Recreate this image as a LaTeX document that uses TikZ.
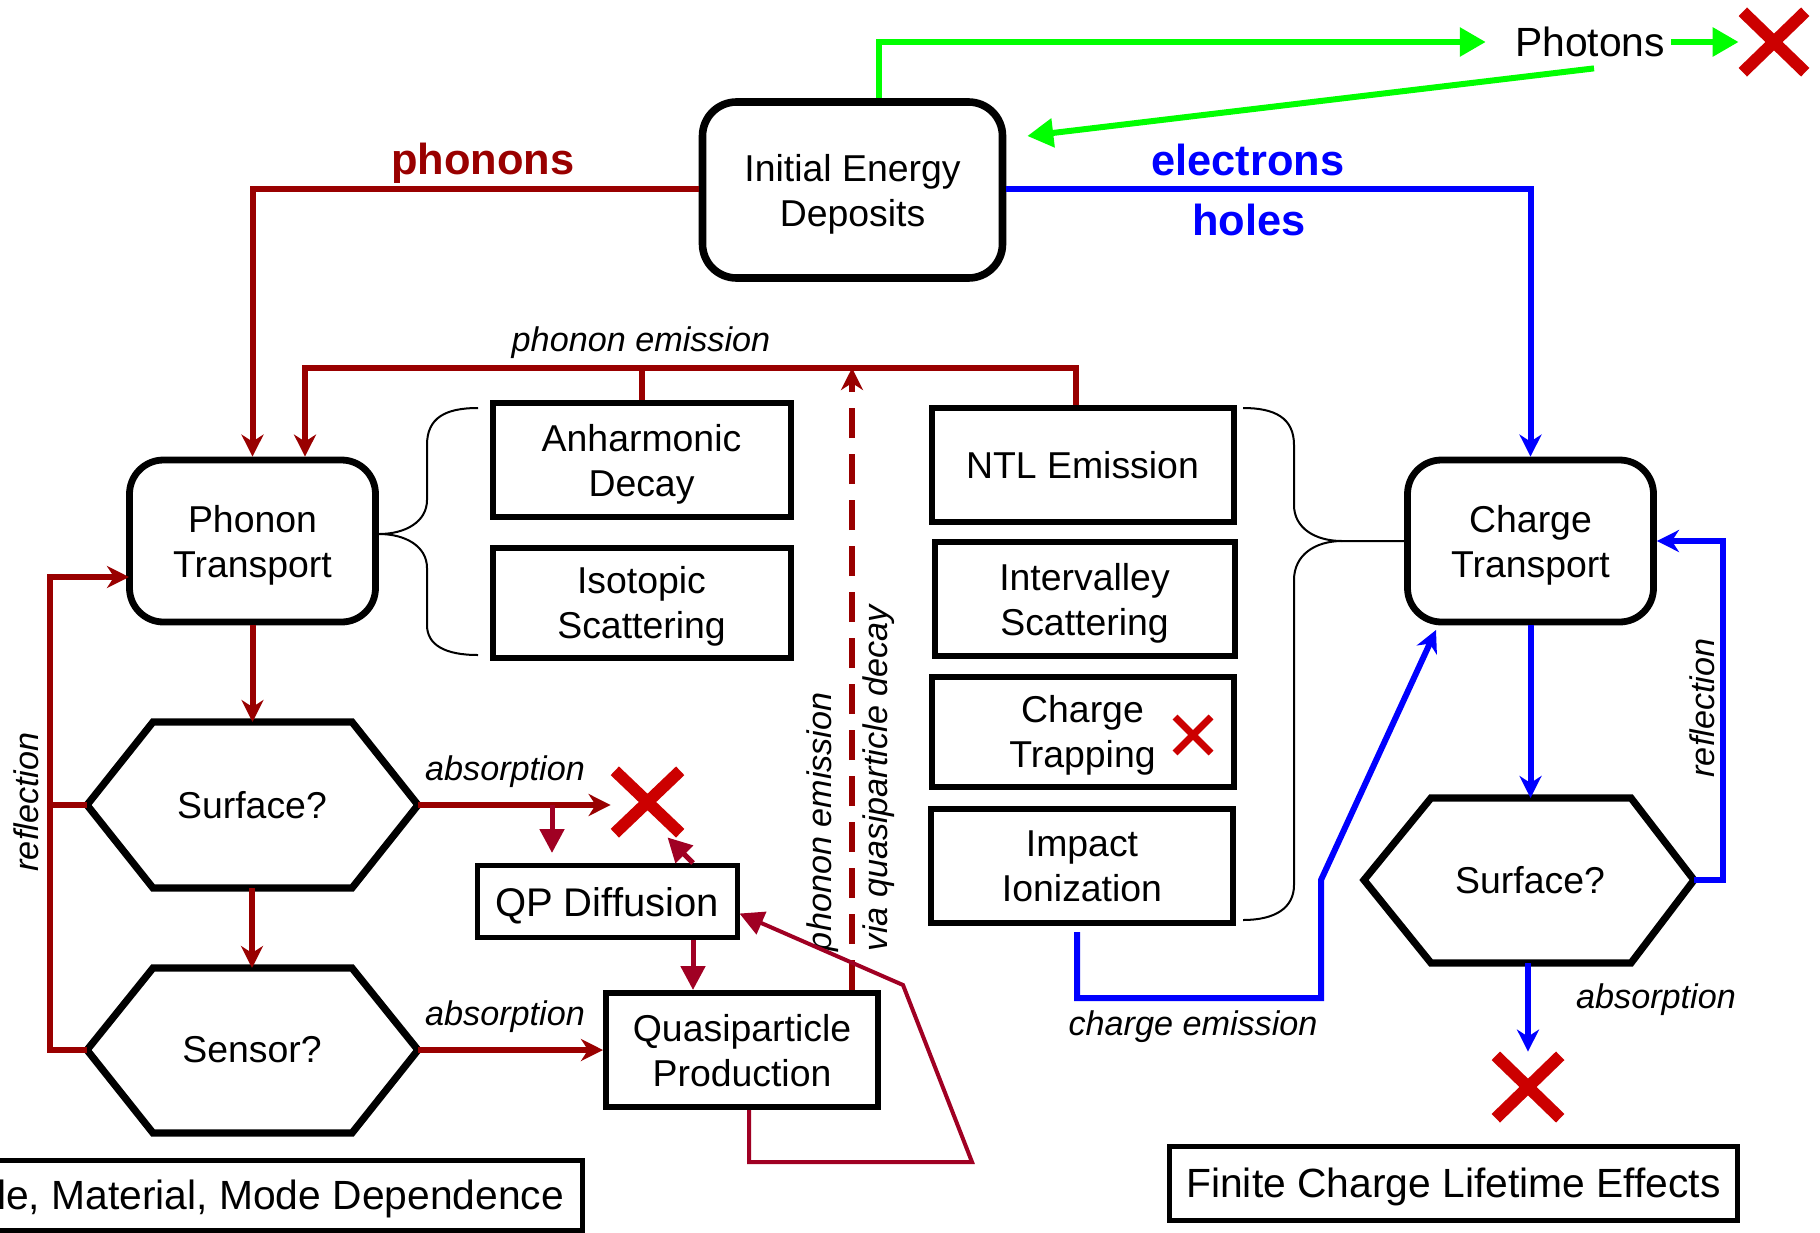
\documentclass[tikz,border=0pt]{standalone}
\usepackage{fontspec}
\setmainfont{Liberation Sans}
\usetikzlibrary{arrows.meta,calc}
\definecolor{pred}{RGB}{153,0,0}
\definecolor{qred}{RGB}{160,0,35}
\definecolor{xred}{RGB}{204,0,0}
\definecolor{eblue}{RGB}{0,0,255}
\definecolor{pgreen}{RGB}{0,255,0}
\tikzset{
  boxfont/.style={font=\fontsize{18.7}{22.5}\selectfont},
  rbox/.style={draw, line width=3.4pt, rounded corners=17pt, align=center, boxfont, inner sep=0pt, text depth=0pt},
  sbox/.style={draw, line width=3pt, align=center, boxfont, inner sep=0pt, text depth=0pt},
  hexa/.style={draw, line width=3.6pt, line join=miter},
  pline/.style={pred, line width=3pt},
  bline/.style={eblue, line width=3pt},
  gline/.style={pgreen, line width=3pt},
  qline/.style={qred, line width=2.5pt},
  lline/.style={qred, line width=2pt},
  brace/.style={black, line width=1pt},
  arr/.style={-{Stealth[length=11pt,width=11pt,inset=3.5pt]}},
  tarr/.style={-{Triangle[length=13pt,width=14pt]}},
  tarrs/.style={-{Triangle[length=12pt,width=12pt]}},
  lab/.style={font=\fontsize{17.1}{20}\selectfont\itshape, inner sep=0pt},
  blab/.style={font=\fontsize{21.7}{25}\selectfont\bfseries, inner sep=0pt},
  xnode/.style={inner sep=0pt}
}
\newcommand{\xmarkdraw}[3]{%
  \draw[xred,line width=#2,line cap=butt] ($(#1.north west)+(#3,-#3)$) -- ($(#1.south east)+(-#3,#3)$);
  \draw[xred,line width=#2,line cap=butt] ($(#1.north east)+(-#3,-#3)$) -- ($(#1.south west)+(#3,#3)$);}
\begin{document}
\begin{tikzpicture}[x=0.5pt,y=-0.5pt]
\useasboundingbox (0,0) rectangle (1820,1232);

% ---------------- boxes
\node[rbox, line width=3.8pt, minimum width=150pt, minimum height=88pt] (ied) at (852.5,190) {Initial Energy\\Deposits};
\path (852.5,188.5) coordinate (iedc);
\node[rbox, minimum width=123pt, minimum height=81pt] (pt) at (252.5,541) {Phonon\\Transport};
\node[rbox, minimum width=123pt, minimum height=81pt] (ct) at (1530.5,541) {Charge\\Transport};

\node[sbox, minimum width=149pt, minimum height=57pt] (anh) at (641.5,460) {Anharmonic\\Decay};
\node[sbox, minimum width=149pt, minimum height=55pt] (iso) at (641.5,602.5) {Isotopic\\Scattering};
\node[sbox, minimum width=151pt, minimum height=57pt] (ntl) at (1082.5,465) {NTL Emission};
\node[sbox, minimum width=150pt, minimum height=57pt] (ivs) at (1084.5,599) {Intervalley\\Scattering};
\node[sbox, minimum width=151pt, minimum height=55pt] (trap) at (1082.5,731.5) {Charge\\Trapping};
\node[sbox, minimum width=151pt, minimum height=57pt] (imp) at (1082,866) {Impact\\Ionization};
\node[sbox, line width=2.5pt, minimum width=130pt, minimum height=36pt, font=\fontsize{20}{24}\selectfont] (qpd) at (607,901.5) {QP Diffusion};
\node[sbox, minimum width=136pt, minimum height=57pt] (qpp) at (742,1050) {Quasiparticle\\Production};
\node[sbox, line width=2.5pt, minimum width=284pt, minimum height=37pt, font=\fontsize{20.4}{24}\selectfont] (fin) at (1453.5,1183) {Finite Charge Lifetime Effects};
\node[sbox, line width=2.5pt, minimum width=301pt, minimum height=35pt, inner xsep=9pt, font=\fontsize{20.4}{24}\selectfont] (dep) at (281,1195) {\makebox[283pt][r]{le, Material, Mode Dependence}};

% ---------------- hexagons
\coordinate (s1w) at (87,805);  \coordinate (s1nw) at (153,722); \coordinate (s1ne) at (352,722);
\coordinate (s1e) at (418,805); \coordinate (s1se) at (352,888); \coordinate (s1sw) at (153,888);
\draw[hexa] (s1w) -- (s1nw) -- (s1ne) -- (s1e) -- (s1se) -- (s1sw) -- cycle;
\node[boxfont] (surf1) at (252,805) {Surface?};

\coordinate (snw) at (87,1050);  \coordinate (snnw) at (153,968); \coordinate (snne) at (352,968);
\coordinate (sne) at (418,1050); \coordinate (snse) at (352,1133); \coordinate (snsw) at (153,1133);
\draw[hexa] (snw) -- (snnw) -- (snne) -- (sne) -- (snse) -- (snsw) -- cycle;
\node[boxfont] (sens) at (252,1050) {Sensor?};

\coordinate (s2w) at (1364,880);  \coordinate (s2nw) at (1431,798); \coordinate (s2ne) at (1631,798);
\coordinate (s2e) at (1694,880);  \coordinate (s2se) at (1631,963); \coordinate (s2sw) at (1431,963);
\draw[hexa] (s2w) -- (s2nw) -- (s2ne) -- (s2e) -- (s2se) -- (s2sw) -- cycle;
\node[boxfont] (surf2) at (1530,880) {Surface?};

% ---------------- photons and crosses
\node[font=\fontsize{20.4}{24}\selectfont, inner sep=0pt] (ph) at (1590,42) {Photons};
\node[xnode, minimum width=35pt, minimum height=34pt] (x1) at (1774,42) {};
\node[xnode, minimum width=36.5pt, minimum height=35pt] (x2) at (647.5,802) {};
\node[xnode, minimum width=20pt, minimum height=20pt] (x3) at (1193,735) {};
\node[xnode, minimum width=36pt, minimum height=35pt] (x4) at (1528,1087) {};
\xmarkdraw{x1}{6pt}{2.1pt}
\xmarkdraw{x2}{6pt}{2.1pt}
\xmarkdraw{x3}{3.5pt}{1.2pt}
\xmarkdraw{x4}{6pt}{2.1pt}

% ---------------- labels
\node[blab, text=pred] (lph) at (483,163) {phonons};
\node[blab, text=eblue] (lel) at (1248,160) {electrons};
\node[blab, text=eblue] (lho) at (1249,220) {holes};
\node[lab] (lpe) at (641,343) {phonon emission};
\node[lab] (ab1) at (505,772) {absorption};
\node[lab] (ab2) at (505,1017) {absorption};
\node[lab] (ab3) at (1656,1000) {absorption};
\node[lab] (celab) at (1193,1027) {charge emission};
\node[lab, rotate=90] (refl1) at (26,802) {reflection};
\node[lab, rotate=90] (refl2) at (1702,708) {reflection};
\node[rotate=90, align=left, inner sep=0pt, font=\fontsize{17.1}{28}\selectfont\itshape] (pelab) at (851,778) {phonon emission\\via quasiparticle decay};

% ---------------- green connectors
\coordinate (gup) at (879,42);
\draw[gline, tarr] (ied.north -| gup) |- ([xshift=-14.5pt]ph.west);
\draw[gline, tarr] ([xshift=3pt]ph.east) -- (x1.west);
\draw[gline, tarr] ([shift={(2pt,-5.5pt)}]ph.south) -- ([shift={(10.5pt,27pt)}]ied.east);

% ---------------- phonon connectors
\draw[pline, arr] (ied.west |- iedc) -| (pt.north);
\coordinate (pel) at (305,368);
\coordinate (per) at (1076,368);
\draw[pline, arr] (ntl.north -| per) -- (per) -- (pel) -- (pel |- pt.north);
\draw[pline] (anh.north) -- (anh.north |- pel);
\coordinate (dsh) at (852,368);
\draw[pline, line width=2.6pt, dash pattern=on 15pt off 8pt, arr] (qpp.north -| dsh) -- (dsh);

\draw[pline, arr] (pt.south) -- (pt.south |- s1nw);
\draw[pline, arr] (surf1 |- s1sw) -- (surf1 |- snnw);
\coordinate (rfx) at (50,577);
\coordinate (ptin) at (129,577);
\draw[pline] (s1w) -- (s1w -| rfx);
\draw[pline, arr] (snw) -| (rfx) -- (ptin);
\draw[pline, arr] (s1e) -- (x2.west |- s1e);
\draw[pline, arr] (sne) -- (qpp.west |- sne);

% ---------------- quasiparticle connectors
\coordinate (br1) at (552,805);
\coordinate (qx) at (693,0);
\draw[qline, tarrs, shorten >=5pt] (br1) -- (br1 |- qpd.north);
\draw[qline, tarrs] (qpd.north -| qx) -- ([xshift=10pt]x2.south);
\draw[qline, tarrs] (qpd.south -| qx) -- (qpp.north -| qx);
\coordinate (lp1) at (749,1162);
\coordinate (lp2) at (972,1162);
\coordinate (lp3) at (903,985);
\draw[lline, tarrs] (qpp.south -| lp1) -- (lp1) -- (lp2) -- (lp3) -- ([yshift=-6pt]qpd.east);

% ---------------- braces
\coordinate (lbt) at (379,534);
\draw[brace] (478,408) .. controls (445,408) and (427,418) .. (427,445) -- (427,500)
  .. controls (427,522) and (405,534) .. (lbt)
  .. controls (405,534) and (427,546) .. (427,568) -- (427,625)
  .. controls (427,645) and (445,655) .. (478,655);
\coordinate (rbt) at (1342,541);
\draw[brace] (1243,408) .. controls (1275,408) and (1294,418) .. (1294,445) -- (1294,505)
  .. controls (1294,528) and (1315,541) .. (rbt) -- (ct.west);
\draw[brace] (rbt) .. controls (1315,541) and (1294,555) .. (1294,580) -- (1294,885)
  .. controls (1294,908) and (1275,920) .. (1243,920);

% ---------------- charge connectors
\draw[bline, arr] (ied.east |- iedc) -| (ct.north);
\draw[bline, arr] (ct.south) -- (ct.south |- s2nw);
\coordinate (rrx) at (1723,541);
\draw[bline, arr] (s2e) -| (rrx) -- (ct.east);
\draw[bline, arr] (x4.north |- s2sw) -- (x4.north);
\coordinate (ce1) at (1077,998);
\coordinate (ce2) at (1321,998);
\coordinate (ce3) at (1321,880);
\coordinate (ctin) at (1436,630);
\draw[bline, arr] ([yshift=-3pt]imp.south -| ce1) -- (ce1) -- (ce2) -- (ce3) -- (ctin);

\end{tikzpicture}
\end{document}
